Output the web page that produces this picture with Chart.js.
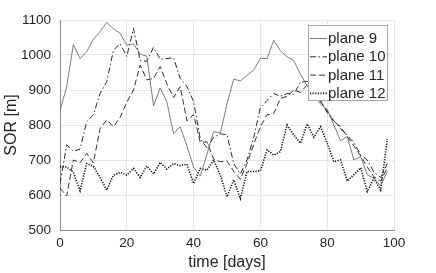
<!DOCTYPE html>
<html>
<head>
<meta charset="utf-8">
<script src="https://cdn.jsdelivr.net/npm/chart.js@4/dist/chart.umd.min.js"></script>
<style>
  html, body { margin: 0; padding: 0; background: #fff; }
  #wrap { width: 436px; height: 273px; position: relative; }
</style>
</head>
<body>
<div id="wrap"><canvas id="chart"></canvas></div>
<script>
// sampled every 2 days
const days = [0, 2, 4, 6, 8, 10, 12, 14, 16, 18, 20, 22, 24, 26, 28, 30, 32, 34, 36, 38,
              40, 42, 44, 46, 48, 50, 52, 54, 56, 58, 60, 62, 64, 66, 68, 70, 72, 74, 76, 78,
              80, 82, 84, 86, 88, 90, 92, 94, 96, 98];

const plane9 = [840, 910, 1030, 990, 1010, 1045, 1067, 1093, 1075, 1062,
                1028, 1032, 1003, 996, 855, 906, 866, 775, 795, 740,
                680, 654, 717, 781, 777, 860, 931, 926, 942, 957,
                990, 990, 1042, 1012, 995, 984, 945, 912, 885, 860,
                845, 800, 755, 767, 700, 710, 658, 648, 626, 668];

const plane10 = [633, 743, 725, 731, 810, 829, 890, 924, 1014, 1032,
                 996, 1076, 985, 982, 1022, 988, 990, 992, 933, 910,
                 867, 760, 735, 765, 775, 772, 690, 660, 700, 765,
                 850, 870, 890, 882, 890, 888, 922, 925, 905, 866,
                 840, 812, 790, 770, 750, 715, 700, 665, 650, 690];

const plane11 = [620, 597, 700, 692, 719, 692, 790, 815, 795, 822,
                 865, 900, 971, 929, 933, 967, 918, 878, 910, 812,
                 830, 750, 752, 702, 695, 697, 668, 645, 690, 745,
                 795, 829, 833, 876, 882, 900, 893, 915, 898, 870,
                 835, 810, 795, 767, 740, 712, 680, 652, 640, 678];

const plane12 = [681, 680, 665, 612, 690, 682, 650, 614, 657, 665,
                 657, 676, 650, 683, 660, 693, 674, 690, 684, 688,
                 633, 676, 671, 700, 657, 595, 643, 590, 667, 667,
                 669, 729, 714, 724, 800, 771, 748, 803, 765, 795,
                 748, 695, 700, 640, 658, 678, 610, 648, 614, 760];

const xTicks = [0, 20, 40, 60, 80, 100];
const yTicks = [500, 600, 700, 800, 900, 1000, 1100];

const FONT = '"Liberation Sans", Arial, Helvetica, sans-serif';
const TEXT = '#262626';

function pts(vals) {
    return days.map((d, i) => ({ x: d, y: vals[i] }));
}

// Matlab style legend box inside the axes (top right)
const boxLegend = {
    id: 'boxLegend',
    afterDraw(chart) {
        const ctx = chart.ctx;
        const area = chart.chartArea;
        const w = 80, h = 76;
        const x0 = area.right - 86, y0 = area.top + 5;
        ctx.save();
        ctx.fillStyle = '#fff';
        ctx.fillRect(x0, y0, w, h);
        ctx.strokeStyle = '#a6a6a6';
        ctx.lineWidth = 1;
        ctx.strokeRect(x0 + 0.5, y0 + 0.5, w - 1, h - 1);
        ctx.font = '15px ' + FONT;
        ctx.textBaseline = 'middle';
        chart.data.datasets.forEach((ds, i) => {
            const yy = y0 + 13.5 + i * 18.3;
            ctx.strokeStyle = ds.borderColor;
            ctx.lineWidth = ds.borderWidth;
            ctx.setLineDash(ds.borderDash || []);
            ctx.beginPath();
            ctx.moveTo(x0 + 2, yy);
            ctx.lineTo(x0 + 19, yy);
            ctx.stroke();
            ctx.setLineDash([]);
            ctx.fillStyle = TEXT;
            ctx.fillText(ds.label, x0 + 20, yy + 0.5);
        });
        ctx.restore();
    }
};

new Chart(document.getElementById('chart'), {
    type: 'line',
    data: {
        datasets: [
            { label: 'plane 9', data: pts(plane9), borderColor: '#6e6e6e', borderWidth: 0.9, borderDash: [] },
            { label: 'plane 10', data: pts(plane10), borderColor: '#2a2a2a', borderWidth: 1, borderDash: [6, 2.5, 1.5, 2.5] },
            { label: 'plane 11', data: pts(plane11), borderColor: '#333333', borderWidth: 1, borderDash: [6, 3] },
            { label: 'plane 12', data: pts(plane12), borderColor: '#111111', borderWidth: 1.6, borderDash: [1.2, 1.4] }
        ]
    },
    options: {
        responsive: true,
        maintainAspectRatio: false,
        animation: false,
        devicePixelRatio: 1,
        elements: { point: { radius: 0 }, line: { tension: 0 } },
        layout: { padding: { top: 20, right: 42, left: 0, bottom: 0 } },
        plugins: { legend: { display: false }, tooltip: { enabled: false } },
        scales: {
            x: {
                type: 'linear',
                min: 0, max: 100,
                afterFit: (s) => { s.height = 43; },
                afterBuildTicks: (s) => { s.ticks = xTicks.map(v => ({ value: v })); },
                grid: { color: '#e6e6e6', drawTicks: false },
                border: { color: '#8c8c8c', width: 1 },
                ticks: { color: TEXT, padding: 5, font: { family: FONT, size: 13.5 }, callback: (v) => String(v) },
                title: {
                    display: true, text: 'time [days]', color: TEXT,
                    font: { family: FONT, size: 16 }, padding: { top: 0, bottom: 1 }
                }
            },
            y: {
                type: 'linear',
                min: 500, max: 1100,
                afterFit: (s) => { s.width = 60; },
                afterBuildTicks: (s) => { s.ticks = yTicks.map(v => ({ value: v })); },
                grid: { color: '#e6e6e6', drawTicks: false },
                border: { color: '#8c8c8c', width: 1 },
                ticks: { color: TEXT, padding: 9, font: { family: FONT, size: 13.5 }, callback: (v) => String(v) },
                title: {
                    display: true, text: 'SOR [m]', color: TEXT,
                    font: { family: FONT, size: 16 }, padding: { top: 2, bottom: 0 }
                }
            }
        }
    },
    plugins: [boxLegend]
});
</script>
</body>
</html>
